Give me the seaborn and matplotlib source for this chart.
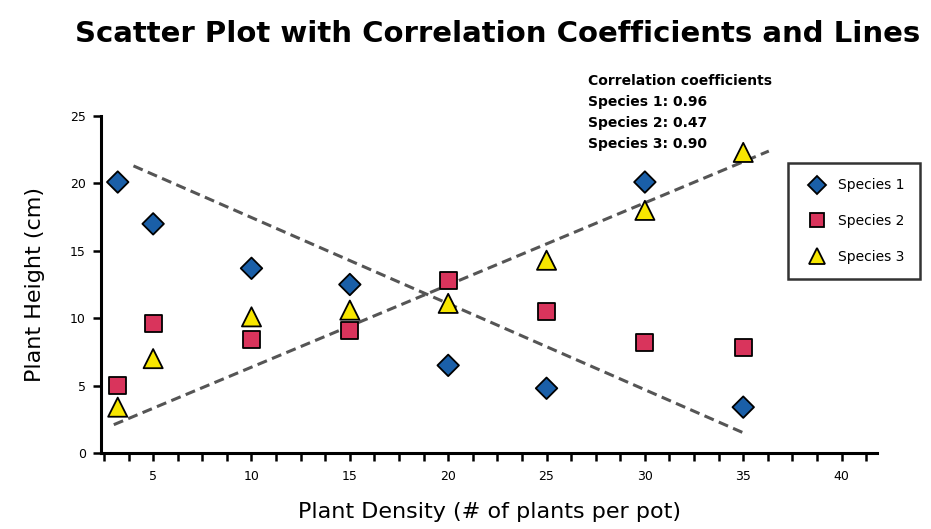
import matplotlib
matplotlib.use("Agg")
import matplotlib.pyplot as plt
from matplotlib.ticker import MultipleLocator
import seaborn as sns
import pandas as pd

# plant density (x) and heights for each species
density = [3.2, 5, 10, 15, 20, 25, 30, 35]
species1 = [20.1, 17.0, 13.7, 12.5, 6.5, 4.8, 20.1, 3.4]
species2 = [5.0, 9.6, 8.4, 9.1, 12.8, 10.5, 8.2, 7.8]
species3 = [3.4, 7.0, 10.1, 10.6, 11.1, 14.3, 18.0, 22.3]

# dashed lines, endpoints
line_down_x = [4.0, 35.0]
line_down_y = [21.3, 1.5]
line_up_x = [3.0, 36.3]
line_up_y = [2.1, 22.4]

corr_labels = ["Species 1", "Species 2", "Species 3"]
corr_values = ["0.96", "0.47", "0.90"]

df = pd.DataFrame({
    "Density": density * 3,
    "Height": species1 + species2 + species3,
    "Species": ["Species 1"] * 8 + ["Species 2"] * 8 + ["Species 3"] * 8,
})

sns.set_style("white")
plt.rcParams["font.family"] = ["DejaVu Sans"]
plt.rcParams["text.color"] = "black"
plt.rcParams["axes.labelcolor"] = "black"
plt.rcParams["xtick.color"] = "black"
plt.rcParams["ytick.color"] = "black"

fig = plt.figure(figsize=(9.31, 5.29), dpi=100)
ax = fig.add_axes([0.1085, 0.1437, 0.8335, 0.637])

ax.plot(line_down_x, line_down_y, color="#555555", lw=2.2, dashes=(3.3, 1.8), zorder=1)
ax.plot(line_up_x, line_up_y, color="#555555", lw=2.2, dashes=(3.3, 1.8), zorder=1)

sns.scatterplot(data=df, x="Density", y="Height", hue="Species", style="Species",
                size="Species",
                sizes={"Species 1": 120, "Species 2": 150, "Species 3": 190},
                palette={"Species 1": "#1a5fa8", "Species 2": "#d9345c", "Species 3": "#f7e600"},
                markers={"Species 1": "D", "Species 2": "s", "Species 3": "^"},
                edgecolor="black", linewidth=1.3, ax=ax, zorder=3)

ax.set_xlim(2.35, 41.8)
ax.set_ylim(0, 25)
ax.xaxis.set_major_locator(MultipleLocator(5))
ax.xaxis.set_minor_locator(MultipleLocator(1.25))
ax.yaxis.set_major_locator(MultipleLocator(5))
ax.tick_params(axis="both", which="both", direction="out", length=6, width=1.8,
               labelsize=9)
ax.tick_params(axis="x", which="both", bottom=True, pad=6)
ax.tick_params(axis="y", left=True, pad=5)
xt = [5, 10, 15, 20, 25, 30, 35, 40]
ax.set_xticks(xt)
ax.set_xticklabels([str(v) for v in xt])

for side in ["top", "right"]:
    ax.spines[side].set_visible(False)
for side in ["left", "bottom"]:
    ax.spines[side].set_color("black")
    ax.spines[side].set_linewidth(2.2)

ax.set_xlabel("Plant Density (# of plants per pot)", fontsize=16, labelpad=14)
ax.set_ylabel("Plant Height (cm)", fontsize=16, labelpad=18)

fig.suptitle("Scatter Plot with Correlation Coefficients and Lines",
             fontsize=21, fontweight="bold", x=0.534, y=0.963)

txt = "Correlation coefficients\n" + "\n".join(
    f"{n}: {v}" for n, v in zip(corr_labels, corr_values))
fig.text(0.632, 0.86, txt, fontsize=10, fontweight="bold", va="top", ha="left",
         linespacing=1.62)

leg = ax.legend(loc="upper left", bbox_to_anchor=(0.885, 0.86), frameon=True,
                fontsize=10, fancybox=False, edgecolor="black", borderpad=1.1,
                labelspacing=1.55, handletextpad=0.5, borderaxespad=0)
leg.get_frame().set_linewidth(1.8)
for h in leg.legend_handles:
    if hasattr(h, "set_markersize"):
        h.set_markersize(h.get_markersize() * 0.8)

fig.savefig("out.png", dpi=100)
